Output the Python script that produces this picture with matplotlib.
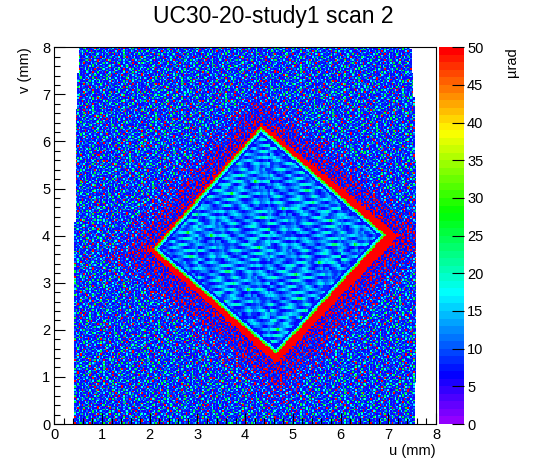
import colorsys
import numpy as np
import matplotlib
matplotlib.use("Agg")
import matplotlib.pyplot as plt
from matplotlib.colors import ListedColormap, BoundaryNorm
from matplotlib.ticker import MultipleLocator

plt.rcParams["font.family"] = ["Liberation Sans", "DejaVu Sans"]

# histogram binning (mm)
n_bins = 250
u_edges = np.linspace(0, 8, n_bins + 1)
v_edges = np.linspace(0, 8, n_bins + 1)

# border of the scanned area (left / right edge vs v)
edge_v = [0.0, 1.22, 4.05, 5.05, 6.89, 8.0]
left_u = [0.416, 0.42, 0.43, 0.438, 0.467, 0.525]
right_u = [7.54, 7.58, 7.59, 7.58, 7.54, 7.47]

# diamond window corners: top, right, bottom, left
diamond_u = [4.33, 6.94, 4.65, 2.08]
diamond_v = [6.30, 4.02, 1.49, 3.71]

# saturated band outside each edge (mm, start/end of edge) and halo reach (mm)
band_start = [0.07, 0.22, 0.14, 0.04]
band_end = [0.16, 0.14, 0.09, 0.05]
halo_reach = [0.9, 1.1, 1.1, 1.0]

# rim just inside the window edge: depth (mm) and level (urad)
rim_depth = [0.035, 0.07, 0.12]
rim_level = [30, 17, 7]

# background speckle, classes
bg_levels = [5.5, 6.5, 7, 7.5, 8.5, 11, 17, 26, 60, 60]
bg_tile = [
    "31527403264138245730461825123",
    "24615372038451627340512634751",
    "53140628173524036152943172605",
    "12736451204683157240365128437",
    "40253164738219406351274063152",
    "63418205361472538104627351940",
    "25061347253816042573615230468",
    "71352640182537461203548617325",
    "34620513476215307462153047261",
    "52174368025143617258340162573",
    "16403725931462580347126453018",
    "43215067342815463120573842659",
    "20538146257304126485317260431",
    "65142730418653207141562384725",
    "31760425136247518302647135062",
    "47325618043726145263804152376",
    "02451376254103862475130627345",
    "56234107365248130564271483150",
    "13572640128357416230548312647",
    "64105328457162035417623045813",
    "35241867302415726153048261574",
    "21673450416382504627315740236",
    "48316205731546217384052613479",
]
bg_row_shift = [0, 9, 4, 15, 7, 19, 2, 12, 17, 5]
bg_col_shift = [0, 13, 6, 22, 3, 17, 10, 25, 8, 20]

# streaky texture inside the window (each tile row spans two bins in v)
in_levels = [6, 8, 10.5, 12.5, 14.5, 16.5, 19, 23, 28, 60]
in_tile = [
    "33300112445553321100034444211233555421100233441",
    "00012344553332100123445556642100123443210001220",
    "44556654310012344432110011234555665422113458765",
    "11123210011233321112334455444321001112233344321",
    "33444323455665432100001112234555667654321100123",
    "22332100122210011234455665432100011223344555443",
    "23411123455664321001123455432122346654311123442",
    "11234455432210011234443321000111233211001123443",
    "33445543200123333210012234556777654311002345554",
    "00112001234455443222334443221100123344555432110",
    "44555432344543211001122334556655543210011223345",
    "11221000011100123445544321000112233445544332211",
    "11100233544443210012234566553211234554320012331",
    "23345565321001123455321100112233443211122345654",
    "22334321001223221000123445666654321000011234432",
    "11223112345566654333221110001234455666543210001",
    "33443211233321000112334556678654321000123344556",
    "22332111122211234556654321112233445544332211122",
]
in_row_shift = [0, 7, 12, 3, 15, 9, 5, 14]
in_col_shift = [0, 23, 11, 35, 6, 29, 17, 41]


def tile_to_array(rows, levels):
    w = max(len(r) for r in rows)
    return np.array([[levels[int(c)] for c in r.ljust(w, r[-1])] for r in rows], float)


def lay_tile(tile, row_shift, col_shift, cell_h=1):
    th, tw = tile.shape
    i = (np.arange(n_bins) // cell_h)[:, None]
    j = np.arange(n_bins)[None, :]
    ii = (i + np.array(row_shift)[(j // tw) % len(row_shift)]) % th
    jj = (j + np.array(col_shift)[(i // th) % len(col_shift)]) % tw
    return tile[ii, jj]


bg = lay_tile(tile_to_array(bg_tile, bg_levels), bg_row_shift, bg_col_shift)
bg_rank_levels = list(np.argsort(np.argsort(bg_levels, kind="stable")))
bg_rank = lay_tile(tile_to_array(bg_tile, bg_rank_levels), bg_row_shift, bg_col_shift)
inner = lay_tile(tile_to_array(in_tile, in_levels), in_row_shift, in_col_shift, cell_h=2)

uc = 0.5 * (u_edges[:-1] + u_edges[1:])
vc = 0.5 * (v_edges[:-1] + v_edges[1:])
U, V = np.meshgrid(uc, vc)

# signed distance to each diamond edge
s_list, t_list = [], []
for k in range(4):
    u0, v0 = diamond_u[k], diamond_v[k]
    u1, v1 = diamond_u[(k + 1) % 4], diamond_v[(k + 1) % 4]
    L = np.hypot(u1 - u0, v1 - v0)
    du, dv = (u1 - u0) / L, (v1 - v0) / L
    s_list.append((U - u0) * (-dv) + (V - v0) * du)
    t_list.append(((U - u0) * du + (V - v0) * dv) / L)
s = np.array(s_list)
t = np.clip(np.array(t_list), 0, 1)
s_max = s.max(axis=0)
k_near = s.argmax(axis=0)
t_near = np.take_along_axis(t, k_near[None], 0)[0]
band = np.array(band_start)[k_near] + (np.array(band_end) - np.array(band_start))[k_near] * t_near
reach = np.array(halo_reach)[k_near]

Z = bg.copy()
outside = s_max > 0
h = np.clip(1 - (s_max - band) / reach, 0, 1) ** 1.2
Z[outside & (s_max <= band)] = 60
Z[outside & (s_max > band) & (h > 0) & (bg_rank >= 8 - 3.5 * h)] = 60

inside = ~outside
depth = -s_max
Z[inside] = inner[inside]
for d, lvl in sorted(zip(rim_depth, rim_level), reverse=True):
    Z[inside & (depth < d)] = lvl

sample = (U >= np.interp(V, edge_v, left_u)) & (U <= np.interp(V, edge_v, right_u))
Z = np.ma.masked_where(~sample, Z)

# ROOT-like rainbow palette, 50 steps
palette = [colorsys.hls_to_rgb((280 - 5.6 * (i + 1)) / 360.0, 0.5, 1.0) for i in range(50)]
cmap = ListedColormap(palette)
cmap.set_over(palette[-1])
cmap.set_bad("white")
norm = BoundaryNorm(np.linspace(0, 50, 51), 50)

fig = plt.figure(figsize=(5.46, 4.72), dpi=100)
ax = fig.add_axes([54.3 / 546, 48 / 472, 381.7 / 546, 376.7 / 472])
mesh = ax.pcolormesh(u_edges, v_edges, Z, cmap=cmap, norm=norm, shading="flat", rasterized=True)
ax.set_xlim(0, 8)
ax.set_ylim(0, 8)
ax.xaxis.set_major_locator(MultipleLocator(1))
ax.yaxis.set_major_locator(MultipleLocator(1))
ax.xaxis.set_minor_locator(MultipleLocator(0.2))
ax.yaxis.set_minor_locator(MultipleLocator(0.2))
ax.tick_params(which="both", direction="in", top=False, right=False, width=0.8)
ax.tick_params(which="major", length=8, labelsize=10.5, pad=3)
ax.tick_params(which="minor", length=4.3)
for sp in ax.spines.values():
    sp.set_linewidth(0.8)

cax = fig.add_axes([439 / 546, 48 / 472, 25.3 / 546, 376.7 / 472])
cb = fig.colorbar(mesh, cax=cax, ticks=np.arange(0, 51, 5))
cb.outline.set_visible(False)
cax.minorticks_off()
cax.tick_params(direction="in", length=9, width=0.8, pad=2, labelsize=10.5)

fig.text(0.5, 1 - 23.5 / 472, "UC30-20-study1 scan 2", ha="center", va="baseline", fontsize=16.5)
fig.text(436 / 546, 1 - 451 / 472, "u (mm)", ha="right", va="center", fontsize=10.5)
fig.text(24.5 / 546, 1 - 47.5 / 472, "v (mm)", rotation=90, ha="center", va="top", fontsize=10.5)
fig.text(512 / 546, 1 - 47 / 472, "µrad", rotation=90, ha="center", va="top", fontsize=10.5)

fig.savefig("out.png", dpi=100, facecolor="white")
